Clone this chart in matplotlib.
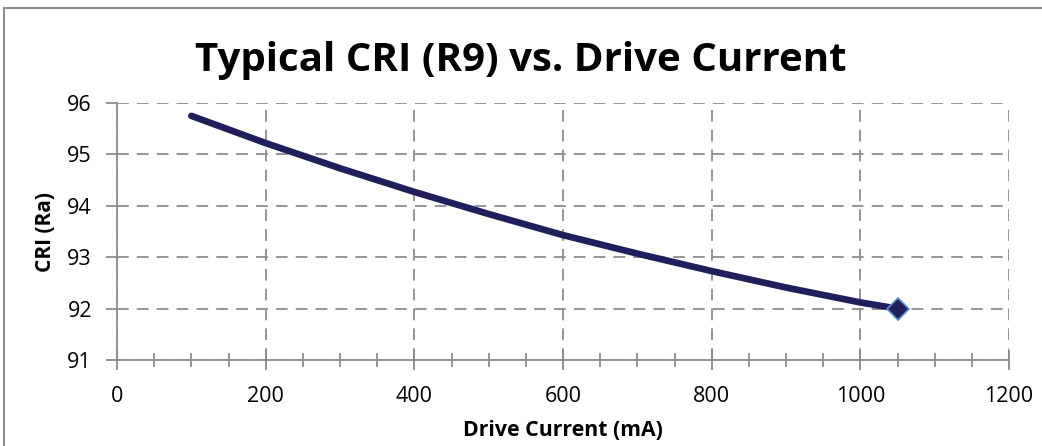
import matplotlib
matplotlib.use("Agg")
import matplotlib.pyplot as plt
from matplotlib.patches import Rectangle
from matplotlib.ticker import MultipleLocator

# values
current_ma = [100, 200, 300, 400, 500, 600, 700, 800, 900, 1000, 1050]
cri = [95.75, 95.22, 94.73, 94.27, 93.84, 93.43, 93.07, 92.73, 92.41, 92.12, 92.0]

plt.rcParams["font.family"] = ["Open Sans", "DejaVu Sans"]

W, H = 1042, 446
fig = plt.figure(figsize=(W / 100, H / 100), dpi=100)
ax = fig.add_axes([117 / W, 1 - 360 / H, (1009 - 117) / W, (360 - 103) / H])

# outer chart border (only top/left visible in the crop)
fig.patches.append(Rectangle((4 / W, -0.1), 1.2, 1 - 8 / H + 0.1, transform=fig.transFigure,
                             fill=False, edgecolor="#8c8c8c", linewidth=1.5))

ax.plot(current_ma, cri, color="#1f1f5c", linewidth=4.8, solid_capstyle="round", zorder=3)
ax.plot(current_ma[-1:], cri[-1:], marker="D", markersize=11, color="#1f1f5c",
        markeredgecolor="#5b8fd0", markeredgewidth=1.2, linestyle="none", zorder=4)

ax.set_xlim(0, 1200)
ax.set_ylim(91, 96)
ax.xaxis.set_major_locator(MultipleLocator(200))
ax.xaxis.set_minor_locator(MultipleLocator(50))
ax.yaxis.set_major_locator(MultipleLocator(1))

ax.grid(True, which="major", color="#8c8c8c", linestyle=(0, (6.5, 4.5)), linewidth=1.3)
for side in ("top", "right"):
    ax.spines[side].set_visible(False)
for side in ("left", "bottom"):
    ax.spines[side].set_color("#8c8c8c")
    ax.spines[side].set_linewidth(1.3)

ax.tick_params(axis="x", which="major", direction="inout", length=14, width=1.3, color="#8c8c8c",
               labelsize=15.5, pad=12)
ax.tick_params(axis="x", which="minor", direction="inout", length=10, width=1.3, color="#8c8c8c")
ax.tick_params(axis="y", which="major", direction="out", length=8, width=1.3, color="#8c8c8c",
               labelsize=15.5, pad=10)

ax.set_xlabel("Drive Current (mA)", fontsize=15.3, fontweight="bold", labelpad=9)
ax.set_ylabel("CRI (Ra)", fontsize=15, fontweight="bold", labelpad=8)
fig.text(0.5, 1 - 60 / H, "Typical CRI (R9) vs. Drive Current", ha="center", va="center",
         fontsize=29, fontweight="bold")

fig.savefig("out.png", dpi=100)
